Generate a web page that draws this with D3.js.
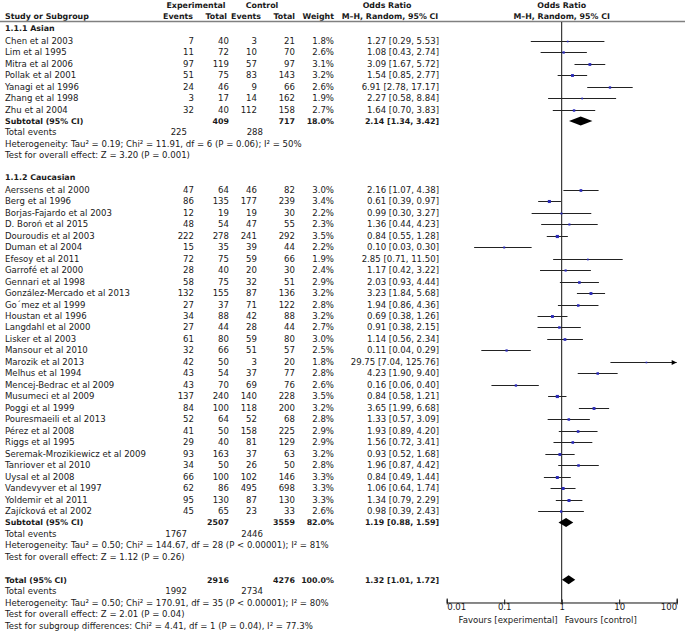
<!DOCTYPE html>
<html><head><meta charset="utf-8">
<script src="https://cdn.jsdelivr.net/npm/d3@7"></script>
<style>
body{margin:0;background:#fff}
svg text{font-family:"DejaVu Sans",sans-serif;fill:#1a1a1a}
</style>
</head><body>
<svg id="c" width="685" height="633"></svg>
<script>
// ---------------- DATA ----------------
const groupNames = ["1.1.1 Asian", "1.1.2 Caucasian"];
const groupSizes = [7, 29];
const studies = [
  "Chen et al 2003","Lim et al 1995","Mitra et al 2006","Pollak et al 2001","Yanagi et al 1996","Zhang et al 1998","Zhu et al 2004",
  "Aerssens et al 2000","Berg et al 1996","Borjas-Fajardo et al 2003","D. Boroń et al 2015","Douroudis et al 2003","Duman et al 2004",
  "Efesoy et al 2011","Garrofé et al 2000","Gennari et al 1998","González-Mercado et al 2013","Go´mez et al 1999","Houstan et al 1996",
  "Langdahl et al 2000","Lisker et al 2003","Mansour et al 2010","Marozik et al 2013","Melhus et al 1994","Mencej-Bedrac et al 2009",
  "Musumeci et al 2009","Poggi et al 1999","Pouresmaeili et al 2013","Pérez et al 2008","Riggs et al 1995",
  "Seremak-Mrozikiewicz et al 2009","Tanriover et al 2010","Uysal et al 2008","Vandevyver et al 1997","Yoldemir et al 2011","Zajícková et al 2002"
];
const expEvents  = [7,11,97,51,24,3,32, 47,86,12,48,222,15,72,28,58,132,27,34,27,61,32,42,43,43,137,84,52,41,29,93,34,66,62,95,45];
const expTotal   = [40,72,119,75,46,17,40, 64,135,19,54,278,35,75,40,75,155,37,88,44,80,66,50,54,70,240,100,64,50,40,163,50,100,86,130,65];
const ctrlEvents = [3,10,57,83,9,14,112, 46,177,19,47,241,39,59,20,32,87,71,42,28,59,51,3,37,69,140,118,52,158,81,37,26,102,495,87,23];
const ctrlTotal  = [21,70,97,143,66,162,158, 82,239,30,55,292,44,66,30,51,136,122,88,44,80,57,20,77,76,228,200,68,225,129,63,50,146,698,130,33];
const weights    = [1.8,2.6,3.1,3.2,2.6,1.9,2.7, 3.0,3.4,2.2,2.3,3.5,2.2,1.9,2.4,2.9,3.2,2.8,3.2,2.7,3.0,2.5,1.8,2.8,2.6,3.5,3.2,2.8,2.9,2.9,3.2,2.8,3.3,3.3,3.3,2.6];
const oddsRatio  = [1.27,1.08,3.09,1.54,6.91,2.27,1.64, 2.16,0.61,0.99,1.36,0.84,0.10,2.85,1.17,2.03,3.23,1.94,0.69,0.91,1.14,0.11,29.75,4.23,0.16,0.84,3.65,1.33,1.93,1.56,0.93,1.96,0.84,1.06,1.34,0.98];
const ciLow      = [0.29,0.43,1.67,0.85,2.78,0.58,0.70, 1.07,0.39,0.30,0.44,0.55,0.03,0.71,0.42,0.93,1.84,0.86,0.38,0.38,0.56,0.04,7.04,1.90,0.06,0.58,1.99,0.57,0.89,0.72,0.52,0.87,0.49,0.64,0.79,0.39];
const ciHigh     = [5.53,2.74,5.72,2.77,17.17,8.84,3.83, 4.38,0.97,3.27,4.23,1.28,0.30,11.50,3.22,4.44,5.68,4.36,1.26,2.15,2.34,0.29,125.76,9.40,0.40,1.21,6.68,3.09,4.20,3.41,1.68,4.42,1.44,1.74,2.29,2.43];

const subExpTotal   = [409, 2507];
const subCtrlTotal  = [717, 3559];
const subWeight     = [18.0, 82.0];
const subOR         = [2.14, 1.19];
const subLow        = [1.34, 0.88];
const subHigh       = [3.42, 1.59];
const subExpEvents  = [225, 1767];
const subCtrlEvents = [288, 2446];
const subHeterogeneity = [
  "Heterogeneity: Tau² = 0.19; Chi² = 11.91, df = 6 (P = 0.06); I² = 50%",
  "Heterogeneity: Tau² = 0.50; Chi² = 144.67, df = 28 (P < 0.00001); I² = 81%"
];
const subOverallTest = ["Test for overall effect: Z = 3.20 (P = 0.001)", "Test for overall effect: Z = 1.12 (P = 0.26)"];

const totalExpTotal = 2916, totalCtrlTotal = 4276, totalWeight = 100.0;
const totalOR = 1.32, totalLow = 1.01, totalHigh = 1.72;
const totalExpEvents = 1992, totalCtrlEvents = 2734;
const totalFooter = [
  "Heterogeneity: Tau² = 0.50; Chi² = 170.91, df = 35 (P < 0.00001); I² = 80%",
  "Test for overall effect: Z = 2.01 (P = 0.04)",
  "Test for subgroup differences: Chi² = 4.41, df = 1 (P = 0.04), I² = 77.3%"
];
const axisTicks  = [0.01, 0.1, 1, 10, 100];
const tickLabels = ["0.01", "0.1", "1", "10", "100"];
const favourLabels = ["Favours [experimental]", "Favours [control]"];

// ---------------- LAYOUT ----------------
const svg = d3.select("#c");
const FS = 8.55, FSB = 7.9;
const row0 = 40.7, rowH = 11.47;
const rowY = i => row0 + i * rowH;
const colX = {name: 5, ee: 194, et: 229, ce: 257, ct: 295, w: 334, ci: 439, teE: 187, teC: 263};
const x = d3.scaleLog().domain([0.01, 100]).range([446.7, 676.7]);
const f2 = d3.format(".2f"), f1 = d3.format(".1f");
const ciText = (o, l, h) => `${f2(o)} [${f2(l)}, ${f2(h)}]`;

function txt(xp, y, s, opt = {}) {
  return svg.append("text").attr("x", xp).attr("y", y + 3)
    .attr("font-size", opt.bold ? FSB : FS)
    .attr("font-weight", opt.bold ? "bold" : "normal")
    .attr("text-anchor", opt.anchor || "start").text(s);
}

// header
txt(196, 4.5, "Experimental", {bold: true, anchor: "middle"});
txt(262, 4.5, "Control", {bold: true, anchor: "middle"});
txt(387, 4.5, "Odds Ratio", {bold: true, anchor: "middle"});
txt(561.7, 4.5, "Odds Ratio", {bold: true, anchor: "middle"});
txt(colX.name, 15.7, "Study or Subgroup", {bold: true});
txt(193, 15.7, "Events", {bold: true, anchor: "end"});
txt(227, 15.7, "Total", {bold: true, anchor: "end"});
txt(261, 15.7, "Events", {bold: true, anchor: "end"});
txt(colX.ct, 15.7, "Total", {bold: true, anchor: "end"});
txt(colX.w, 15.7, "Weight", {bold: true, anchor: "end"});
txt(390, 15.7, "M–H, Random, 95% CI", {bold: true, anchor: "middle"});
txt(561.7, 15.7, "M–H, Random, 95% CI", {bold: true, anchor: "middle"});
svg.append("line").attr("x1", 0).attr("x2", 685).attr("y1", 21.5).attr("y2", 21.5)
  .attr("stroke", "#808080").attr("stroke-width", 1.5);

// axis position
const totalRow = 47;
const axisY = rowY(totalRow) + 22.7;

// vertical line of no effect
svg.append("line").attr("x1", x(1)).attr("x2", x(1)).attr("y1", 22).attr("y2", axisY)
  .attr("stroke", "#111").attr("stroke-width", 1);

function diamond(y, o, l, h) {
  const hh = 4.5;
  svg.append("path")
    .attr("d", `M${x(l)},${y} L${x(o)},${y - hh} L${x(h)},${y} L${x(o)},${y + hh} Z`)
    .attr("fill", "#000");
}

let r = 0, s = 0;
groupNames.forEach((g, gi) => {
  txt(colX.name, rowY(r - 1) - 1.5, g, {bold: true});
  for (let k = 0; k < groupSizes[gi]; k++, s++, r++) {
    const y = rowY(r);
    txt(colX.name, y, studies[s]);
    txt(colX.ee, y, expEvents[s], {anchor: "end"});
    txt(colX.et, y, expTotal[s], {anchor: "end"});
    txt(colX.ce, y, ctrlEvents[s], {anchor: "end"});
    txt(colX.ct, y, ctrlTotal[s], {anchor: "end"});
    txt(colX.w, y, f1(weights[s]) + "%", {anchor: "end"});
    txt(colX.ci, y, ciText(oddsRatio[s], ciLow[s], ciHigh[s]), {anchor: "end"});
    const hiC = Math.min(ciHigh[s], 100), loC = Math.max(ciLow[s], 0.01);
    const yy = Math.round(y) + 0.5;
    svg.append("line").attr("x1", x(loC)).attr("x2", x(hiC)).attr("y1", yy).attr("y2", yy)
      .attr("stroke", "#222").attr("stroke-width", 1);
    if (ciHigh[s] > 100) {
      const ax = x(100);
      svg.append("path").attr("d", `M${ax},${yy} L${ax - 5},${yy - 2.5} L${ax - 5},${yy + 2.5} Z`).attr("fill", "#000");
    }
    const sz = weights[s] * 0.9;
    svg.append("rect").attr("x", x(oddsRatio[s]) - sz / 2).attr("y", yy - sz / 2)
      .attr("width", sz).attr("height", sz).attr("fill", "#2a2ab8");
  }
  // subtotal
  let y = rowY(r);
  txt(colX.name, y, "Subtotal (95% CI)", {bold: true});
  txt(colX.et, y, subExpTotal[gi], {bold: true, anchor: "end"});
  txt(colX.ct, y, subCtrlTotal[gi], {bold: true, anchor: "end"});
  txt(colX.w, y, f1(subWeight[gi]) + "%", {bold: true, anchor: "end"});
  txt(colX.ci, y, ciText(subOR[gi], subLow[gi], subHigh[gi]), {bold: true, anchor: "end"});
  diamond(y, subOR[gi], subLow[gi], subHigh[gi]);
  r++;
  y = rowY(r);
  txt(colX.name, y, "Total events");
  txt(colX.teE, y, subExpEvents[gi], {anchor: "end"});
  txt(colX.teC, y, subCtrlEvents[gi], {anchor: "end"});
  r++;
  txt(colX.name, rowY(r), subHeterogeneity[gi]); r++;
  txt(colX.name, rowY(r), subOverallTest[gi]); r++;
  r += 2; // blank + next header
});

// total
r = totalRow;
let y = rowY(r);
txt(colX.name, y, "Total (95% CI)", {bold: true});
txt(colX.et, y, totalExpTotal, {bold: true, anchor: "end"});
txt(colX.ct, y, totalCtrlTotal, {bold: true, anchor: "end"});
txt(colX.w, y, f1(totalWeight) + "%", {bold: true, anchor: "end"});
txt(colX.ci, y, ciText(totalOR, totalLow, totalHigh), {bold: true, anchor: "end"});
diamond(y, totalOR, totalLow, totalHigh);
r++;
y = rowY(r);
txt(colX.name, y, "Total events");
txt(colX.teE, y, totalExpEvents, {anchor: "end"});
txt(colX.teC, y, totalCtrlEvents, {anchor: "end"});
r++;
totalFooter.forEach(t => { txt(colX.name, rowY(r), t); r++; });

// axis
const ax = svg.append("g").attr("transform", `translate(0,${axisY})`)
  .call(d3.axisBottom(x).tickValues(axisTicks).tickFormat((d, i) => tickLabels[i]).tickSize(-4).tickPadding(9));
ax.select(".domain").attr("stroke", "#111");
ax.selectAll(".tick line").attr("stroke", "#111").attr("y2", -3).attr("y1", 2);
ax.selectAll(".tick text").attr("font-size", FS).attr("font-family", "DejaVu Sans, sans-serif").attr("fill", "#1a1a1a")
  .attr("dy", "0.2em").attr("y", 6)
  .attr("text-anchor", (d, i) => i === 0 ? "start" : (i === axisTicks.length - 1 ? "end" : "middle"));
txt(x(1) - 4, axisY + 17.5, favourLabels[0], {anchor: "end"});
txt(x(1) + 3, axisY + 17.5, favourLabels[1]);
</script>
</body></html>
